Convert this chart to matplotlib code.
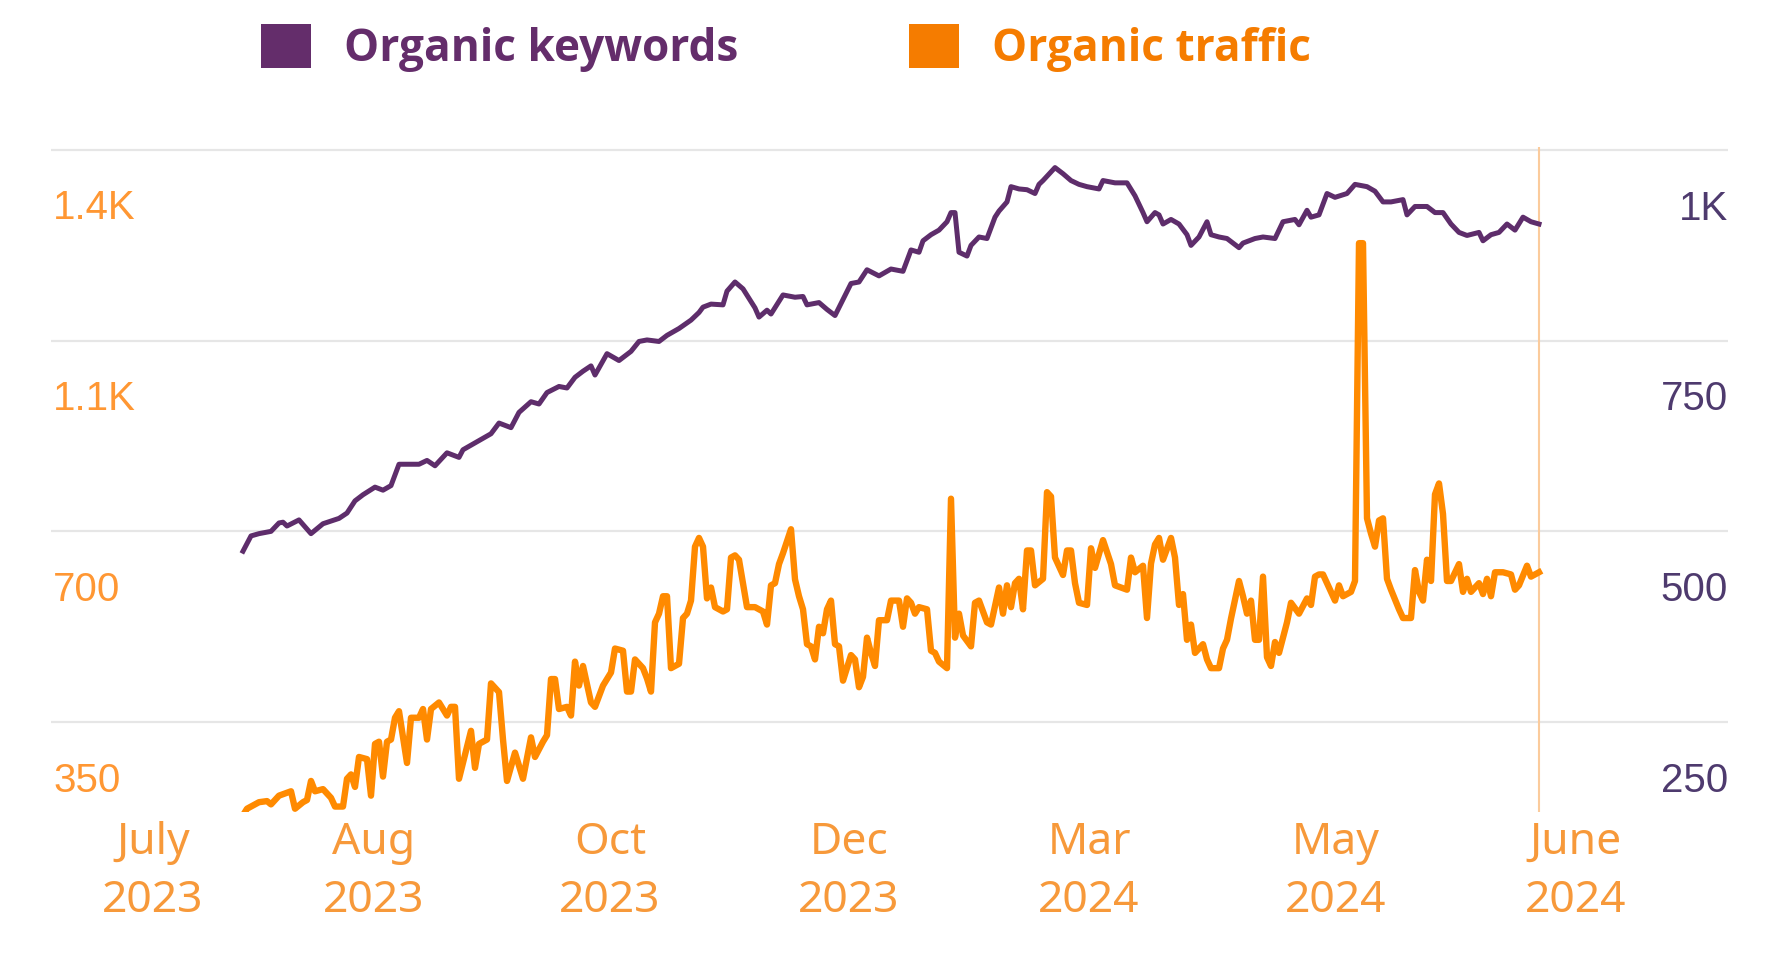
import matplotlib
matplotlib.use("Agg")
import matplotlib.pyplot as plt
from matplotlib.patches import Patch
from matplotlib.transforms import ScaledTranslation

# ---------------- data ----------------
series_names = ["Organic keywords", "Organic traffic"]

# Organic keywords (right axis), x = days since first data point
kw_day = [0, 2, 4, 7, 9, 10, 11, 14, 17, 20, 24, 26, 28, 30, 33, 35, 37, 39, 44, 46,
          48, 51, 54, 55, 59, 62, 64, 67, 69, 72, 74, 76, 79, 81, 83, 85, 87, 88, 91, 94,
          97, 99, 101, 104, 106, 109, 112, 114, 115, 117, 120, 121, 123, 125, 128, 129, 131, 132, 135, 138,
          140, 141, 144, 146, 148, 150, 152, 154, 156, 159, 162, 165, 167, 169, 170, 172, 174, 176, 177, 178,
          179, 181, 182, 184, 186, 188, 189, 191, 192, 194, 196, 198, 199, 200, 203, 205, 207, 209, 211, 214,
          215, 218, 221, 223, 225, 226, 228, 229, 230, 232, 234, 236, 237, 239, 241, 242, 244, 246, 249, 250,
          253, 255, 258, 260, 263, 264, 266, 267, 269, 271, 273, 276, 278, 281, 283, 285, 287, 290, 291, 293,
          296, 298, 300, 302, 304, 306, 309, 310, 312, 314, 316, 318, 320, 322, 324]
kw_val = [474, 494, 497, 500, 511, 512, 507, 515, 497, 510, 517, 524, 540, 548, 558, 554, 560, 588, 588, 593,
          586, 603, 597, 607, 619, 628, 642, 636, 656, 670, 667, 682, 690, 688, 702, 710, 717, 705, 733, 724,
          736, 749, 751, 749, 757, 766, 777, 787, 794, 798, 797, 815, 827, 818, 793, 781, 790, 785, 810, 807,
          808, 797, 800, 791, 783, 804, 825, 827, 843, 835, 844, 841, 869, 866, 881, 889, 895, 906, 918, 918,
          866, 861, 875, 886, 884, 912, 920, 932, 952, 949, 948, 943, 955, 960, 977, 969, 960, 955, 952, 949,
          960, 957, 957, 940, 918, 906, 918, 915, 903, 909, 903, 889, 875, 886, 906, 889, 886, 884, 872, 878,
          884, 886, 884, 906, 909, 902, 921, 912, 915, 943, 938, 943, 955, 952, 946, 932, 932, 935, 915, 926,
          926, 918, 918, 903, 892, 888, 892, 881, 889, 892, 903, 895, 912, 906, 903]

# Organic traffic (left axis)
tr_day = [0, 1, 4, 6, 7, 9, 12, 13, 15, 16, 17, 18, 20, 22, 23, 25, 26, 27, 28, 29,
          31, 32, 33, 34, 35, 36, 37, 38, 39, 41, 42, 44, 45, 46, 47, 49, 51, 52, 53, 54,
          57, 58, 59, 61, 62, 64, 65, 66, 68, 70, 72, 73, 75, 76, 77, 78, 79, 81, 82, 83,
          84, 85, 87, 88, 90, 92, 93, 95, 96, 97, 98, 100, 101, 102, 103, 104, 105, 106, 107, 109,
          110, 111, 112, 113, 114, 115, 116, 117, 118, 120, 121, 122, 123, 124, 126, 128, 130, 131, 132, 133,
          134, 135, 137, 138, 139, 140, 141, 142, 143, 144, 145, 146, 147, 148, 149, 150, 152, 153, 154, 155,
          156, 157, 158, 159, 161, 162, 164, 165, 166, 167, 168, 169, 171, 172, 173, 174, 176, 177, 178, 179,
          180, 182, 183, 184, 186, 187, 189, 190, 191, 192, 193, 194, 195, 196, 197, 198, 200, 201, 202, 203,
          205, 206, 207, 208, 209, 211, 212, 213, 215, 217, 218, 221, 222, 223, 225, 226, 227, 228, 229, 230,
          232, 233, 234, 235, 236, 237, 238, 240, 241, 242, 244, 245, 246, 247, 249, 250, 251, 252, 253, 254,
          255, 256, 257, 258, 259, 261, 262, 264, 266, 267, 268, 269, 270, 272, 273, 274, 275, 277, 278, 279,
          280, 281, 282, 283, 284, 285, 286, 287, 289, 290, 292, 293, 294, 295, 296, 297, 298, 299, 300, 301,
          302, 304, 305, 306, 307, 309, 310, 311, 312, 313, 315, 317, 318, 319, 321, 322, 324]
tr_val = [179, 191, 203, 205, 199, 215, 223, 191, 203, 207, 242, 223, 227, 211, 195, 195, 246, 254, 231, 286,
          282, 215, 310, 314, 250, 314, 318, 358, 370, 275, 358, 358, 374, 318, 374, 386, 362, 378, 378, 246,
          334, 266, 310, 318, 421, 405, 318, 242, 294, 246, 322, 286, 314, 326, 429, 429, 374, 378, 362, 461,
          417, 453, 386, 378, 417, 441, 485, 481, 406, 406, 465, 449, 430, 406, 533, 549, 581, 581, 449, 457,
          541, 549, 573, 672, 688, 672, 577, 597, 561, 553, 557, 652, 656, 648, 561, 561, 553, 529, 601, 605,
          640, 660, 704, 612, 581, 557, 493, 489, 465, 525, 513, 557, 573, 493, 489, 426, 473, 465, 414, 433,
          505, 477, 453, 537, 537, 573, 573, 525, 577, 569, 549, 561, 557, 481, 477, 461, 449, 760, 505, 549,
          509, 489, 569, 573, 533, 529, 597, 549, 601, 561, 605, 613, 557, 665, 665, 601, 613, 772, 764, 652,
          620, 665, 665, 605, 569, 565, 669, 633, 684, 640, 601, 593, 652, 625, 637, 541, 641, 676, 688, 648,
          688, 652, 565, 585, 501, 529, 477, 493, 465, 449, 449, 485, 501, 540, 609, 581, 549, 573, 501, 501,
          617, 469, 453, 497, 477, 533, 569, 549, 577, 565, 617, 621, 621, 589, 573, 601, 581, 589, 609, 1229,
          1229, 724, 696, 672, 720, 724, 613, 593, 557, 541, 541, 629, 589, 573, 648, 609, 768, 788, 732, 609,
          609, 640, 589, 613, 589, 605, 585, 613, 581, 625, 625, 621, 593, 601, 637, 617, 625]

traffic_ticks = [350, 700, 1050, 1400]
traffic_tick_labels = ["350", "700", "1.1K", "1.4K"]
keyword_ticks = [250, 500, 750, 1000]
keyword_tick_labels = ["250", "500", "750", "1K"]
month_tick_days = [-22.5, 32.75, 91.75, 151.5, 211.5, 273.25, 333.25]
month_labels = ["July\n2023", "Aug\n2023", "Oct\n2023", "Dec\n2023",
                "Mar\n2024", "May\n2024", "June\n2024"]

# ---------------- styling ----------------
PURPLE_LINE = "#5E2D6B"
PURPLE_LEG = "#642D6B"
ORANGE_LINE = "#FF8A00"
ORANGE_LEG = "#F57C00"
LEFT_LBL = "#FF9733"
RIGHT_LBL = "#4E3A6E"
MONTH_LBL = "#F7993A"

W, H = 1778, 957
fig = plt.figure(figsize=(W / 100, H / 100), dpi=100)
fig.patch.set_facecolor("white")

ax_left, ax_right, ax_top, ax_bottom = 51, 1728, 147, 812
ax = fig.add_axes([ax_left / W, (H - ax_bottom) / H,
                   (ax_right - ax_left) / W, (ax_bottom - ax_top) / H])
ax2 = ax.twinx()

ax.set_xlim(-48, 371.25)
ax.set_ylim(185, 1405.5)
ax2.set_ylim(132, 1004)

for a in (ax, ax2):
    for s in a.spines.values():
        s.set_visible(False)
    a.set_facecolor("none")

# grid
ax.set_yticks(traffic_ticks)
ax.yaxis.grid(True, color="#E6E6E6", linewidth=1.6)
ax.xaxis.grid(False)
ax.set_axisbelow(True)

# lines
ax.axvline(tr_day[-1], color="#FBCB9C", linewidth=1.5, zorder=1)
ax.plot(tr_day, tr_val, color=ORANGE_LINE, linewidth=4.6, zorder=3)
ax2.plot(kw_day, kw_val, color=PURPLE_LINE, linewidth=3.6, zorder=3)

# y tick labels (below gridline, inside plot)
offset = ScaledTranslation(0, -69.5 / 100, fig.dpi_scale_trans)
ax.tick_params(axis="y", length=0, pad=-1.5)
ax.set_yticklabels(traffic_tick_labels, fontfamily="Liberation Sans",
                   fontsize=29, color=LEFT_LBL)
for lbl in ax.get_yticklabels():
    lbl.set_horizontalalignment("left")
    lbl.set_verticalalignment("baseline")
    lbl.set_transform(lbl.get_transform() + offset)

ax2.set_yticks(keyword_ticks)
ax2.tick_params(axis="y", length=0, pad=0)
ax2.set_yticklabels(keyword_tick_labels, fontfamily="Liberation Sans",
                    fontsize=29, color=RIGHT_LBL)
for lbl in ax2.get_yticklabels():
    lbl.set_horizontalalignment("right")
    lbl.set_verticalalignment("baseline")
    lbl.set_transform(lbl.get_transform() + offset)

# x tick labels
ax.set_xticks(month_tick_days)
ax.set_xticklabels(month_labels, fontfamily="Noto Sans", fontsize=32,
                   color=MONTH_LBL, linespacing=1.42)
ax.tick_params(axis="x", length=0, pad=6.5)

# legend
handles = [Patch(facecolor=PURPLE_LEG, edgecolor="none"),
           Patch(facecolor=ORANGE_LEG, edgecolor="none")]
leg = fig.legend(handles, series_names, loc="center",
                 bbox_to_anchor=(786 / W, 1 - 48 / H), ncol=2, frameon=False,
                 prop={"family": "Open Sans", "weight": "bold", "size": 31.8},
                 handlelength=1.13, handleheight=1.17, handletextpad=0.745,
                 columnspacing=3.87, borderpad=0, borderaxespad=0)
for txt, col in zip(leg.get_texts(), [PURPLE_LEG, ORANGE_LEG]):
    txt.set_color(col)

fig.savefig("out.png", dpi=100, facecolor="white")
